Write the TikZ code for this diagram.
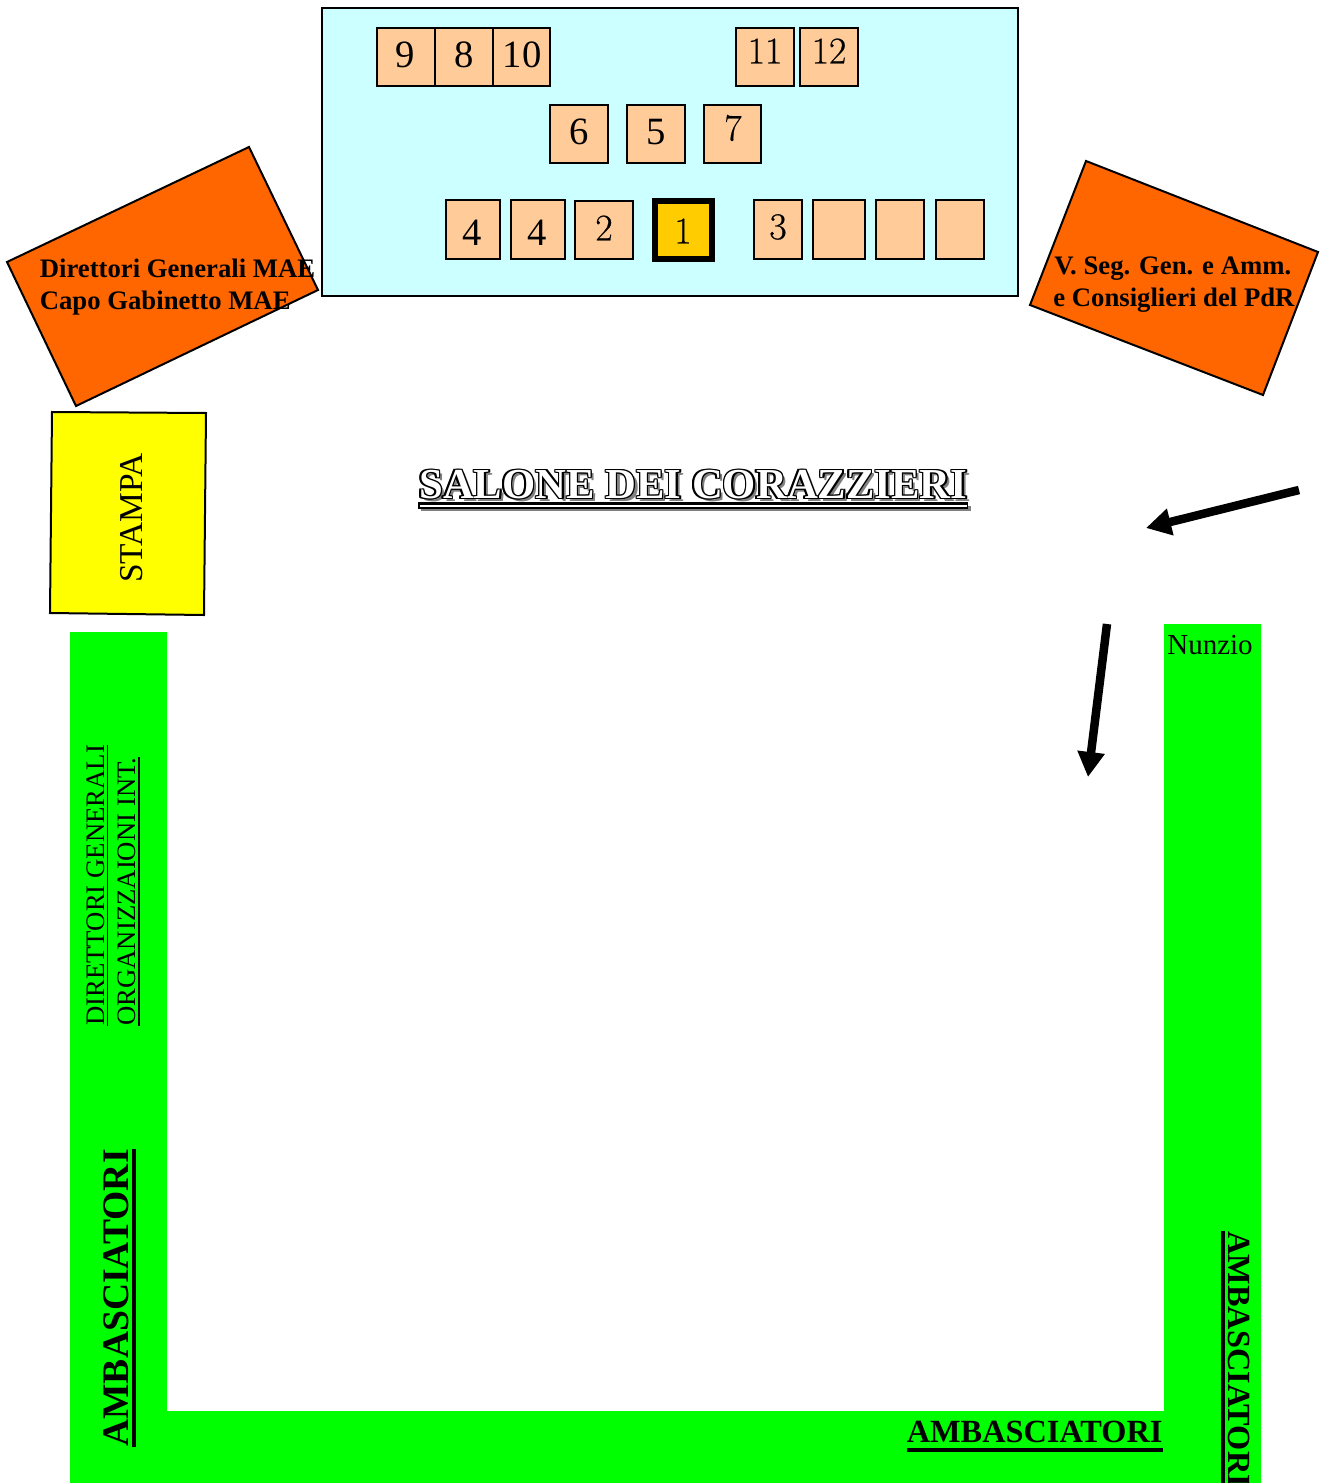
\documentclass[tikz,border=0pt]{standalone}
\usepackage{fontspec}
\setmainfont{Liberation Serif}
\newfontfamily\lmfont[FakeBold=0.5]{LMRoman10-Regular}
\usetikzlibrary{arrows.meta}
\definecolor{panelcol}{HTML}{CCFFFF}
\definecolor{seatcol}{HTML}{FFCC99}
\definecolor{orangecol}{HTML}{FF6600}
\definecolor{goldcol}{HTML}{FFCC00}
\definecolor{greencol}{HTML}{00FF00}
\definecolor{yellowcol}{HTML}{FFFF00}
\newcommand{\salonename}{SALONE DEI CORAZZIERI}
\tikzset{
    seatbox/.style={draw=black,line width=0.04cm,fill=seatcol,inner sep=0pt,outer sep=0pt},
    seatnum/.style={font=\fontsize{22}{24}\selectfont,inner sep=0pt},
    seatnumlm/.style={font=\fontsize{21.5}{24}\selectfont\lmfont,inner sep=0pt},
    areabox/.style={draw=black,line width=0.04cm},
    boldlabel/.style={font=\fontsize{15.2}{17}\selectfont\bfseries,anchor=base west,inner sep=0pt},
    titlelayer/.style={font=\fontsize{24.3}{28}\selectfont\bfseries,anchor=base west,inner sep=0pt},
    sidelabel/.style={font=\fontsize{15.2}{17}\selectfont,anchor=base west,inner sep=0pt,text depth=0.06cm},
    ambalabel/.style={font=\fontsize{#1}{22}\selectfont\bfseries,anchor=base west,inner sep=0pt},
    flowarrow/.style={line width=0.17cm,-{Triangle[length=0.5cm,width=0.52cm]}}
}
\begin{document}
\begin{tikzpicture}[x=0.02cm,y=-0.02cm]
    \useasboundingbox (0,0) rectangle (1324,1483);

    % green benches
    \fill[greencol] (70,632) -- (167,632) -- (167,1411) -- (1164,1411) -- (1164,624)
    -- (1261,624) -- (1261,1483) -- (70,1483) -- cycle;

    % stage and seats
    \draw[areabox,fill=panelcol] (322,8) rectangle (1018,296);
    \foreach \xa/\ya/\xb/\yb/\sname in {377/28/435/86/nine,435/28/493/86/eight,493/28/550/86/ten,
    736/28/793.5/86/eleven,800/28/857.5/86/twelve,550/105/608/163/six,627/105/685/163/five,
    704/105/761/163/seven,446/200/500/259/fourL,511/200/565/259/fourR,575/201/633/259/two,
    754/200/802/259/three,812.5/200/865/259/blankA,876/200/924/259/blankB,936/200/984/259/blankC}
    \node[seatbox,minimum width={(\xb-\xa)*0.02cm},minimum height={(\yb-\ya)*0.02cm}]
    (\sname) at ({(\xa+\xb)/2},{(\ya+\yb)/2}) {};
    \node[seatbox,fill=goldcol,line width=0.12cm,minimum width=1.14cm,minimum height=1.16cm]
    (one) at (683.5,230) {};

    \foreach \x/\y/\t in {405/55/9,464/55/8,522/55/10,579/132/6,656/132/5,472/233/4,537/233/4}
    \node[seatnum] (num\x) at (\x,\y) {\t};
    \foreach \x/\y/\t in {765/51/11,829/51/12,733/128/7,604/228/2,683/231/1,778/227/3}
    \node[seatnumlm] (num\x) at (\x,\y) {\t};

    % side blocks
    \draw[areabox,fill=orangecol] (249,147) -- (318,290) -- (76,406) -- (7,262) -- cycle;
    \draw[areabox,fill=orangecol] (1086,161) -- (1318,252) -- (1263,395) -- (1030,305) -- cycle;
    \draw[areabox,fill=yellowcol] (52,412) -- (206,413) -- (204,615) -- (50,613) -- cycle;

    \node[boldlabel] (dirmae) at (39.5,278) {Direttori Generali MAE};
    \node[boldlabel] (capomae) at (39.5,310) {Capo Gabinetto MAE};
    \node[boldlabel] (vseg) at (1054,275) {V. Seg. Gen. e Amm.};
    \node[boldlabel] (cons) at (1053,307) {e Consiglieri del PdR};
    \node[font=\fontsize{19}{20}\selectfont,anchor=base west,inner sep=0pt,rotate=90] (stampa) at (142,583) {STAMPA};
    \node[font=\fontsize{16.5}{18}\selectfont,anchor=base west,inner sep=0pt] (nunzio) at (1167,654) {Nunzio};

    % title with outline and shadow
    \fill[gray] (421,506) rectangle (971,511);
    \fill[black] (418,502) rectangle (968,508.5);
    \fill[white] (419.5,504.5) rectangle (966.5,506.5);
    \node[titlelayer,text=gray] (titleshadow) at (422.5,501) {\salonename};
    \foreach \dx/\dy [count=\k] in {-1.4/-1.4,0/-1.4,1.4/-1.4,-1.4/0,1.4/0,-1.4/1.4,0/1.4,1.4/1.4}
    \node[titlelayer] (titlek\k) at (419+\dx,498.5+\dy) {\salonename};
    \node[titlelayer,text=white] (titletop) at (419,498.5) {\salonename};

    % labels on the benches
    \node[sidelabel,rotate=90] (dirgen) at (104,1026) {DIRETTORI GENERALI};
    \node[sidelabel,rotate=90] (orgint) at (135.5,1026) {ORGANIZZAIONI INT.};
    \draw[line width=0.03cm] (dirgen.south west) -- (dirgen.south east);
    \draw[line width=0.03cm] (orgint.south west) -- (orgint.south east);

    \node[ambalabel=21.4,rotate=90,text depth=0.12cm] (ambleft) at (128,1447) {AMBASCIATORI};
    \node[ambalabel=18.4,text depth=0.14cm] (ambbottom) at (906.5,1442.5) {AMBASCIATORI};
    \node[ambalabel=18.4,rotate=-90,text depth=0.1cm] (ambright) at (1228,1231) {AMBASCIATORI};
    \draw[line width=0.08cm] (ambleft.south west) -- (ambleft.south east);
    \draw[line width=0.08cm] (ambbottom.south west) -- (ambbottom.south east);
    \draw[line width=0.08cm] (ambright.south west) -- (ambright.south east);

    % arrows
    \coordinate (doorA) at (1299,490);
    \coordinate (tipA) at (1146,528);
    \coordinate (doorB) at (1107,624);
    \coordinate (tipB) at (1088,777);
    \draw[flowarrow] (doorA) -- (tipA);
    \draw[flowarrow] (doorB) -- (tipB);
\end{tikzpicture}
\end{document}
